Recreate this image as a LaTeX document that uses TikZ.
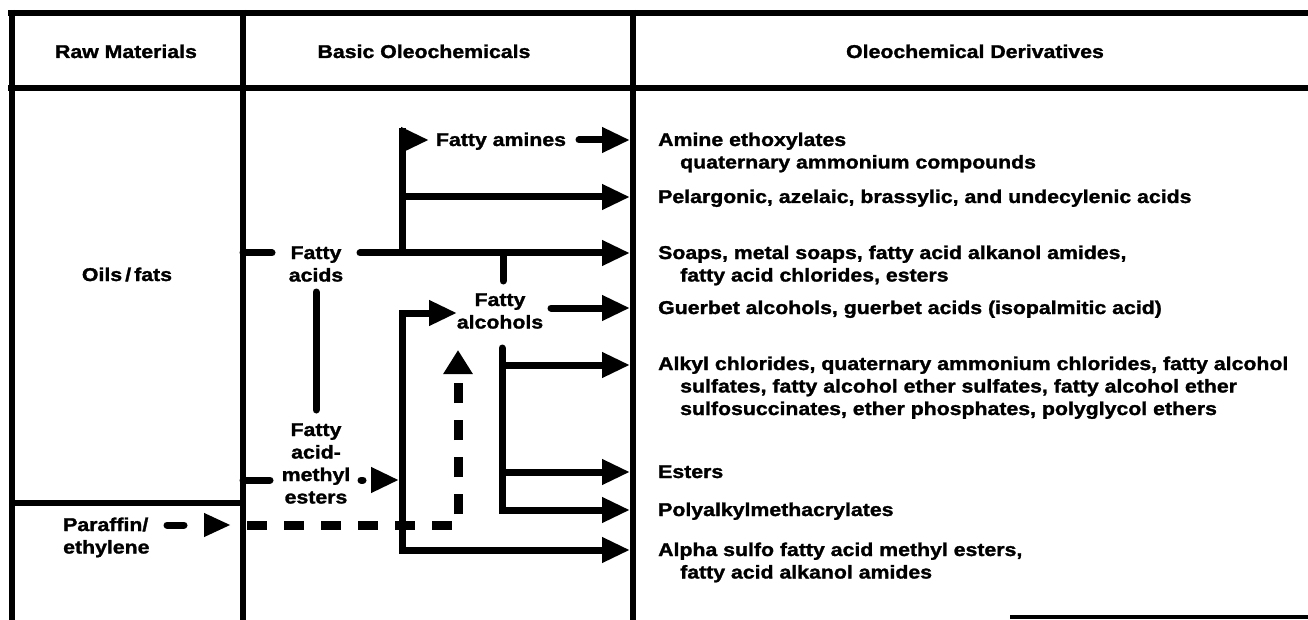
\documentclass[tikz,border=0pt]{standalone}
\usepackage{fontspec}
\newfontfamily\hv{Liberation Sans}[FakeStretch=1.15,FakeBold=1.5]
\usetikzlibrary{arrows.meta}
\begin{document}
\begin{tikzpicture}[x=1pt,y=-1pt,
  frameline/.style={line width=6pt},
  arr/.style={line width=7pt,-{Triangle[length=28pt,width=24pt]}},
  link/.style={line width=7pt,line cap=round},
  dotarr/.style={line width=7pt,line cap=round,-{Triangle[length=28pt,width=24pt]}},
  dasharr/.style={line width=9pt,dash pattern=on 20pt off 17pt,-{Triangle[length=24pt,width=28pt]}},
  lbl/.style={font=\hv\bfseries\fontsize{18.5}{22.5}\selectfont,inner sep=0pt,anchor=base west},
  clbl/.style={font=\hv\bfseries\fontsize{18.5}{22.5}\selectfont,inner sep=0pt,anchor=base},
]
\useasboundingbox[fill=white] (0,0) rectangle (1308,620);
% frame
\draw[frameline] (8,13) -- (1308,13);
\draw[frameline] (8,88) -- (1308,88);
\draw[frameline] (12,10) -- (12,620);
\draw[frameline] (243,10) -- (243,620);
\draw[frameline] (633,10) -- (633,620);
\draw[frameline] (12,503) -- (243,503);
\draw[line width=4pt] (1010,617) -- (1308,617);
% headers
\node[clbl] (hraw) at (126,58) {Raw Materials};
\node[clbl] (hbasic) at (424,58) {Basic Oleochemicals};
\node[clbl] (hderiv) at (975,58) {Oleochemical Derivatives};
% left column
\node[clbl] (oils) at (127,281) {Oils\,/\,fats};
\node[lbl] (paraffin) at (63,531) {\begin{tabular}[t]{@{}l@{}}Paraffin/\\ ethylene\end{tabular}};
% middle column
\node[clbl] (facid) at (316,259) {\begin{tabular}[t]{@{}c@{}}Fatty\\acids\end{tabular}};
\node[clbl] (famine) at (501,146) {Fatty amines};
\node[clbl] (falc) at (500,306) {\begin{tabular}[t]{@{}c@{}}Fatty\\alcohols\end{tabular}};
\node[clbl] (fame) at (316,436) {\begin{tabular}[t]{@{}c@{}}Fatty\\acid-\\methyl\\esters\end{tabular}};
% right column
\node[lbl] (d1) at (658,146) {\begin{tabular}[t]{@{}l@{}}Amine ethoxylates\\\hspace*{22pt}quaternary ammonium compounds\end{tabular}};
\node[lbl] (d2) at (658,203) {Pelargonic, azelaic, brassylic, and undecylenic acids};
\node[lbl] (d3) at (658,259) {\begin{tabular}[t]{@{}l@{}}Soaps, metal soaps, fatty acid alkanol amides,\\\hspace*{22pt}fatty acid chlorides, esters\end{tabular}};
\node[lbl] (d4) at (658,314) {Guerbet alcohols, guerbet acids (isopalmitic acid)};
\node[lbl] (d5) at (658,370) {\begin{tabular}[t]{@{}l@{}}Alkyl chlorides, quaternary ammonium chlorides, fatty alcohol\\\hspace*{22pt}sulfates, fatty alcohol ether sulfates, fatty alcohol ether\\\hspace*{22pt}sulfosuccinates, ether phosphates, polyglycol ethers\end{tabular}};
\node[lbl] (d6) at (658,478) {Esters};
\node[lbl] (d7) at (658,516) {Polyalkylmethacrylates};
\node[lbl] (d8) at (658,556) {\begin{tabular}[t]{@{}l@{}}Alpha sulfo fatty acid methyl esters,\\\hspace*{22pt}fatty acid alkanol amides\end{tabular}};
% coordinates
\coordinate (oilsIn) at (243,253);
\coordinate (faL) at (272,253);
\coordinate (faR) at (360,253);
\coordinate (t3) at (630,253);
\coordinate (jAm) at (402,253);
\coordinate (jAmTop) at (402,128);
\coordinate (flagA) at (402,140);
\coordinate (flagB) at (429,140);
\coordinate (jPel) at (402,197);
\coordinate (t2) at (630,197);
\coordinate (amR) at (579,140);
\coordinate (t1) at (630,140);
\coordinate (jAlc) at (503,253);
\coordinate (alcTop) at (503,281);
\coordinate (alcR) at (551,308);
\coordinate (t4) at (630,308);
\coordinate (alcB) at (502,348);
\coordinate (jAk) at (502,365);
\coordinate (t5) at (630,365);
\coordinate (jEs) at (502,472);
\coordinate (t6) at (630,472);
\coordinate (t7) at (630,510);
\coordinate (jLow) at (402,550);
\coordinate (alcIn) at (457,313);
\coordinate (t8) at (630,550);
\coordinate (feIn) at (243,480);
\coordinate (feL) at (270,480);
\coordinate (feR) at (361,480);
\coordinate (feTip) at (399,480);
\coordinate (paR) at (167,525);
\coordinate (paTip) at (231,525);
\coordinate (dStart) at (247,525);
\coordinate (dCorner) at (458,525);
\coordinate (dTip) at (458,350);
\coordinate (faBot) at (316,292);
\coordinate (feTop) at (316,410);
% connectors
\draw[link] (oilsIn) -- (faL);
\draw[dotarr] (faR) -- (t3);
\draw[link,line cap=butt] (jAm) -- (jAmTop);
\draw[arr] (flagA) -- (flagB);
\draw[arr] (jPel) -- (t2);
\draw[dotarr] (amR) -- (t1);
\draw[link] (jAlc) -- (alcTop);
\draw[dotarr] (alcR) -- (t4);
\draw[dotarr] (alcB) |- (t7);
\draw[arr] (jAk) -- (t5);
\draw[arr] (jEs) -- (t6);
\draw[arr] (jLow) |- (alcIn);
\draw[arr,line cap=rect] (jLow) -- (t8);
\draw[link] (faBot) -- (feTop);
\draw[link] (feIn) -- (feL);
\draw[dotarr,dash pattern=on 2pt off 40pt] (feR) -- (feTip);
\draw[dotarr,dash pattern=on 17pt off 40pt,-{Triangle[length=27pt,width=22pt]}] (paR) -- (paTip);
\draw[dasharr] (dStart) -- (dCorner) -- (dTip);
\end{tikzpicture}
\end{document}
